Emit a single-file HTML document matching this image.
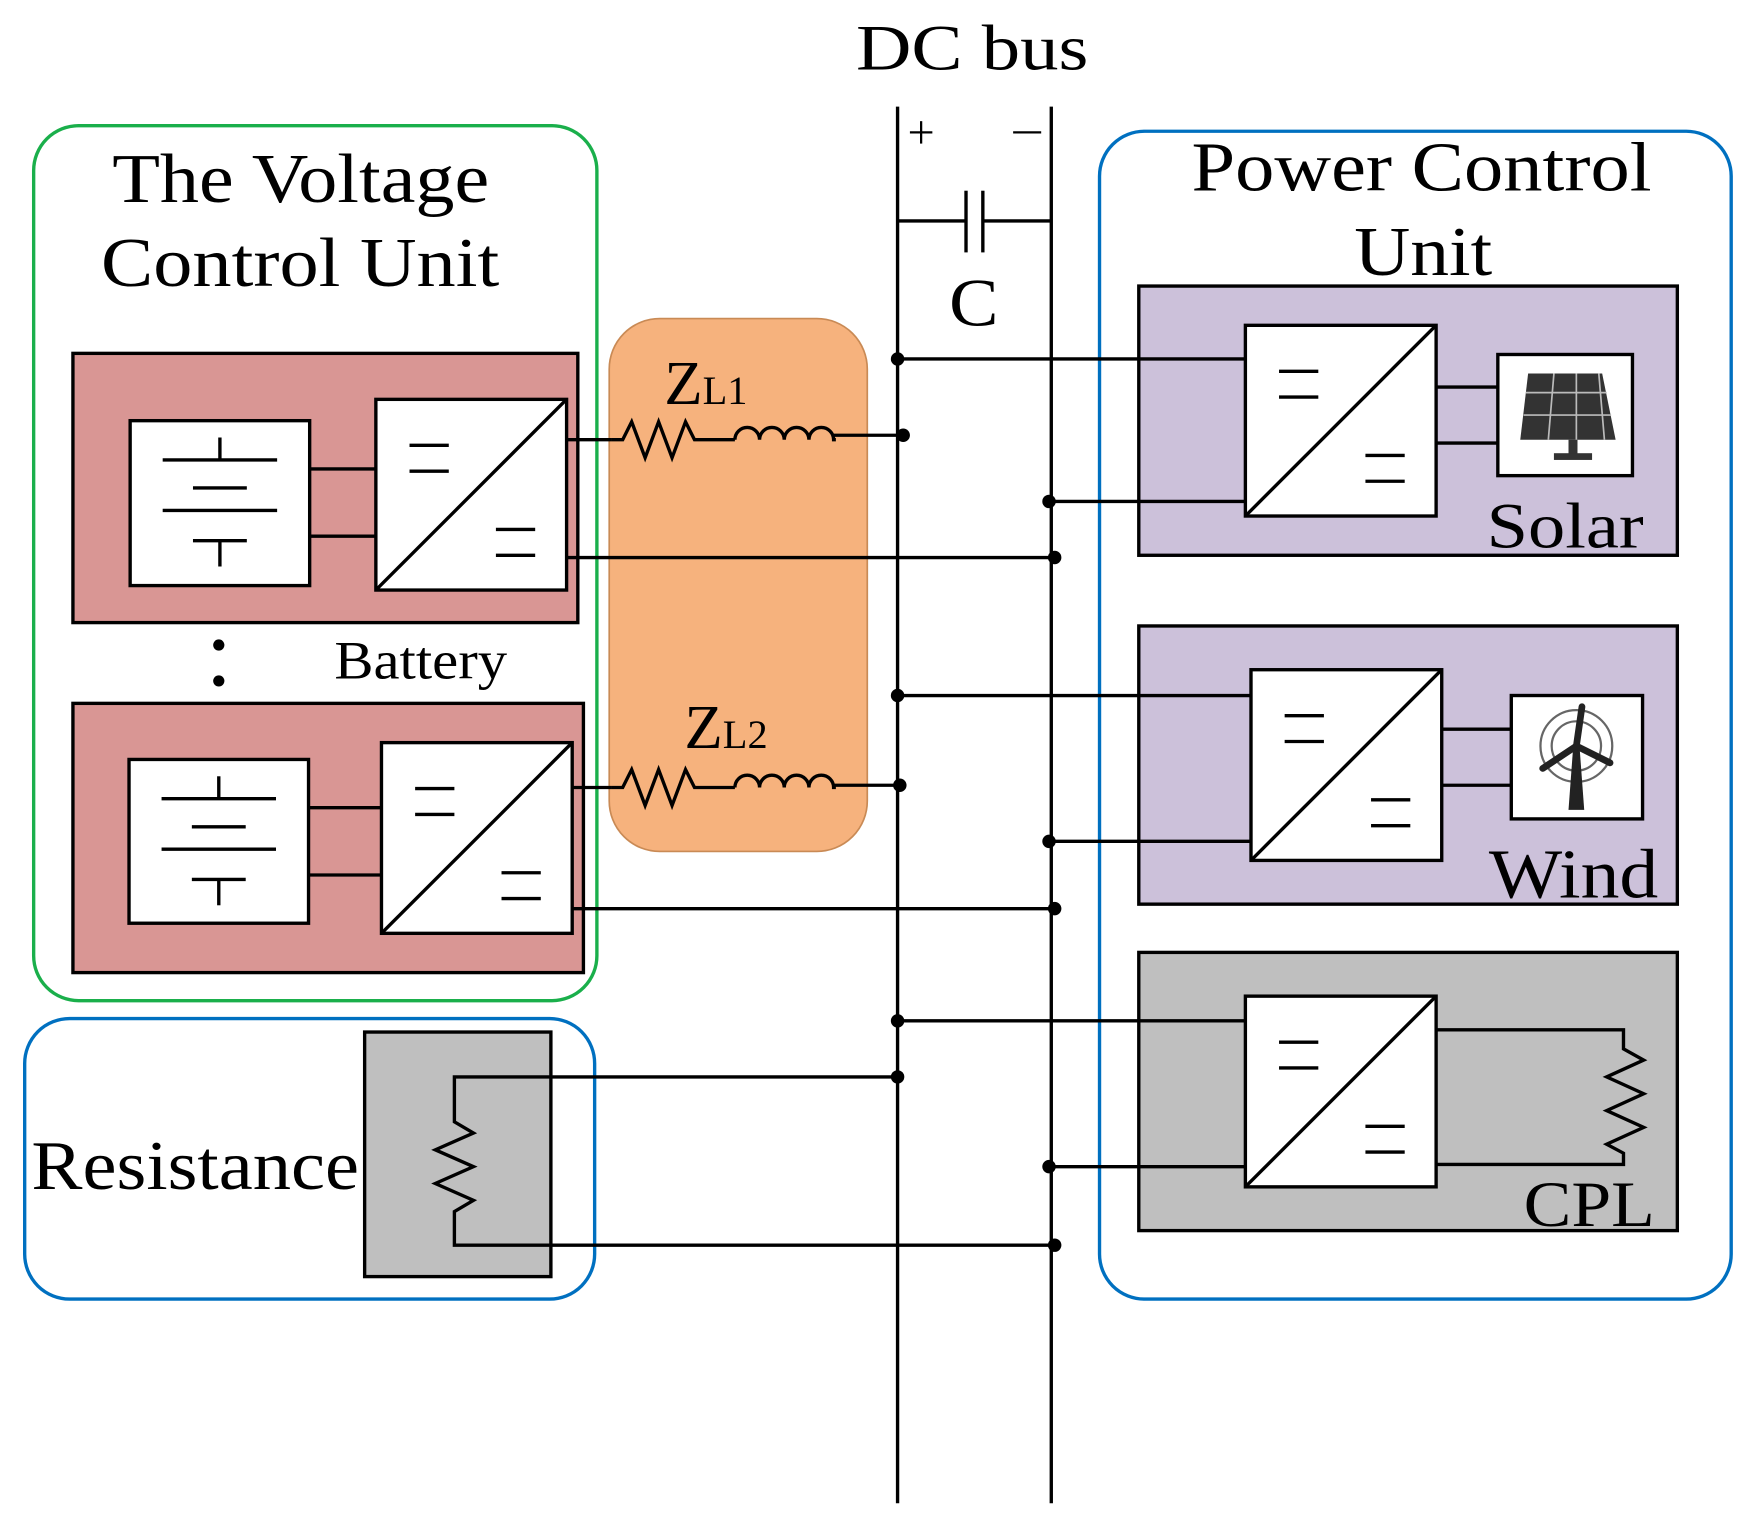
<!DOCTYPE html>
<html><head><meta charset="utf-8"><style>html,body{margin:0;padding:0;background:#fff}svg{display:block}</style></head>
<body>
<svg width="1757" height="1529" viewBox="0 0 1566 1363" preserveAspectRatio="none" xmlns="http://www.w3.org/2000/svg" font-family="'Liberation Serif', serif">
<defs>
<g id="conv">
<rect x="0" y="0" width="170" height="170" fill="#fff" stroke="#000" stroke-width="3"/>
<line x1="0" y1="170" x2="170" y2="0" stroke="#000" stroke-width="3"/>
<line x1="30" y1="41" x2="65" y2="41" stroke="#000" stroke-width="3"/>
<line x1="30" y1="64" x2="65" y2="64" stroke="#000" stroke-width="3"/>
<line x1="107" y1="116" x2="142" y2="116" stroke="#000" stroke-width="3"/>
<line x1="107" y1="139" x2="142" y2="139" stroke="#000" stroke-width="3"/>
</g>
<g id="batt" stroke="#000" stroke-width="3">
<line x1="80" y1="15" x2="80" y2="35"/>
<line x1="29" y1="35" x2="131" y2="35"/>
<line x1="56" y1="60" x2="104" y2="60"/>
<line x1="29" y1="80" x2="131" y2="80"/>
<line x1="56" y1="107" x2="104" y2="107"/>
<line x1="80" y1="107" x2="80" y2="130"/>
</g>
<g id="zl" fill="none" stroke="#000" stroke-width="3">
<polyline points="0,0 10,0 18,-16 30,16 42,-16 54,16 66,-16 74,0 110,0"/>
<path d="M110,0 a11,11 0 0 1 22,0 a11,11 0 0 1 22,0 a11,11 0 0 1 22,0 a11,11 0 0 1 22,0 l2,0"/>
</g>
</defs>
<rect width="1566" height="1363" fill="#fff"/>
<text x="763" y="62" font-size="58" textLength="207" lengthAdjust="spacingAndGlyphs">DC bus</text>
<g stroke="#000" stroke-width="3" fill="none">
<line x1="800" y1="95" x2="800" y2="1340"/>
<line x1="937" y1="95" x2="937" y2="1340"/>
<line x1="800" y1="197" x2="861" y2="197"/>
<line x1="861" y1="170" x2="861" y2="225"/>
<line x1="876" y1="170" x2="876" y2="225"/>
<line x1="876" y1="197" x2="937" y2="197"/>
<line x1="811" y1="118" x2="831" y2="118" stroke-width="2"/>
<line x1="821" y1="108" x2="821" y2="128" stroke-width="2"/>
<line x1="903" y1="118" x2="928" y2="118" stroke-width="2"/>
</g>
<text x="846" y="290" font-size="60" textLength="44" lengthAdjust="spacingAndGlyphs">C</text>

<rect x="30" y="112" width="502" height="780" rx="40" fill="none" stroke="#1aaf4b" stroke-width="3"/>
<text x="100" y="180" font-size="62" textLength="336" lengthAdjust="spacingAndGlyphs">The Voltage</text>
<text x="90" y="255" font-size="62" textLength="355" lengthAdjust="spacingAndGlyphs">Control Unit</text>

<rect x="543" y="284" width="230" height="475" rx="45" fill="#f6b27d" stroke="#c98a55" stroke-width="1.5"/>

<rect x="65" y="315" width="450" height="240" fill="#d99694" stroke="#000" stroke-width="3"/>
<rect x="116" y="375" width="160" height="147" fill="#fff" stroke="#000" stroke-width="3"/>
<use href="#batt" x="116" y="375"/>
<g stroke="#000" stroke-width="3"><line x1="276" y1="418" x2="335" y2="418"/><line x1="276" y1="478" x2="335" y2="478"/></g>
<use href="#conv" x="335" y="356"/>

<rect x="65" y="627" width="455" height="240" fill="#d99694" stroke="#000" stroke-width="3"/>
<rect x="115" y="677" width="160" height="146" fill="#fff" stroke="#000" stroke-width="3"/>
<use href="#batt" x="115" y="677"/>
<g stroke="#000" stroke-width="3"><line x1="275" y1="720" x2="340" y2="720"/><line x1="275" y1="780" x2="340" y2="780"/></g>
<use href="#conv" x="340" y="662"/>

<circle cx="195" cy="575" r="5"/><circle cx="195" cy="607" r="5"/>
<text x="298" y="605" font-size="48" textLength="154" lengthAdjust="spacingAndGlyphs">Battery</text>

<text x="592" y="360" font-size="56">Z<tspan font-size="36">L1</tspan></text>
<text x="610" y="667" font-size="56">Z<tspan font-size="36">L2</tspan></text>
<g stroke="#000" stroke-width="3">
<line x1="505" y1="392" x2="545" y2="392"/>
<line x1="505" y1="497" x2="940" y2="497"/>
<line x1="510" y1="702" x2="545" y2="702"/>
<line x1="510" y1="810" x2="940" y2="810"/>
<line x1="742" y1="388" x2="805" y2="388"/>
<line x1="742" y1="700" x2="802" y2="700"/>
</g>
<use href="#zl" x="545" y="392"/>
<use href="#zl" x="545" y="702"/>
<g fill="#000">
<circle cx="805" cy="388" r="6"/><circle cx="940" cy="497" r="6"/>
<circle cx="802" cy="700" r="6"/><circle cx="940" cy="810" r="6"/>
<circle cx="800" cy="320" r="6"/><circle cx="935" cy="447" r="6"/>
<circle cx="800" cy="620" r="6"/><circle cx="935" cy="750" r="6"/>
<circle cx="800" cy="910" r="6"/><circle cx="935" cy="1040" r="6"/>
<circle cx="800" cy="960" r="6"/><circle cx="940" cy="1110" r="6"/>
</g>

<rect x="980" y="117" width="563" height="1041" rx="40" fill="none" stroke="#0070c0" stroke-width="3"/>
<text x="1062" y="170" font-size="62" textLength="410" lengthAdjust="spacingAndGlyphs">Power Control</text>
<text x="1207" y="245" font-size="62" textLength="123" lengthAdjust="spacingAndGlyphs">Unit</text>

<rect x="1015" y="255" width="480" height="240" fill="#ccc1da" stroke="#000" stroke-width="3"/>
<use href="#conv" x="1110" y="290"/>
<g stroke="#000" stroke-width="3">
<line x1="800" y1="320" x2="1110" y2="320"/><line x1="935" y1="447" x2="1110" y2="447"/>
<line x1="1280" y1="345" x2="1335" y2="345"/><line x1="1280" y1="395" x2="1335" y2="395"/>
</g>
<rect x="1335" y="316" width="120" height="108" fill="#fff" stroke="#000" stroke-width="3"/>
<polygon points="1362,333 1428,333 1440,392 1355,392" fill="#333"/>
<g stroke="#bbb" stroke-width="1.5"><line x1="1360" y1="350" x2="1432" y2="350"/><line x1="1358" y1="370" x2="1436" y2="370"/><line x1="1385" y1="333" x2="1380" y2="392"/><line x1="1405" y1="333" x2="1405" y2="392"/><line x1="1425" y1="333" x2="1430" y2="392"/></g>
<rect x="1398" y="392" width="8" height="14" fill="#333"/><rect x="1385" y="404" width="34" height="6" fill="#333"/>
<text x="1325" y="488" font-size="58" textLength="140" lengthAdjust="spacingAndGlyphs">Solar</text>

<rect x="1015" y="558" width="480" height="248" fill="#ccc1da" stroke="#000" stroke-width="3"/>
<use href="#conv" x="1115" y="597"/>
<g stroke="#000" stroke-width="3">
<line x1="800" y1="620" x2="1115" y2="620"/><line x1="935" y1="750" x2="1115" y2="750"/>
<line x1="1285" y1="650" x2="1347" y2="650"/><line x1="1285" y1="700" x2="1347" y2="700"/>
</g>
<rect x="1347" y="620" width="117" height="110" fill="#fff" stroke="#000" stroke-width="3"/>
<g fill="none" stroke="#666" stroke-width="2"><circle cx="1405" cy="665" r="22"/><circle cx="1405" cy="665" r="32"/></g>
<polygon points="1402,668 1408,668 1412,722 1398,722" fill="#222"/>
<g stroke="#222" stroke-width="6" stroke-linecap="round"><line x1="1405" y1="665" x2="1410" y2="630"/><line x1="1405" y1="665" x2="1375" y2="685"/><line x1="1405" y1="665" x2="1435" y2="680"/></g>
<text x="1327" y="800" font-size="62" textLength="151" lengthAdjust="spacingAndGlyphs">Wind</text>

<rect x="1015" y="849" width="480" height="248" fill="#bfbfbf" stroke="#000" stroke-width="3"/>
<use href="#conv" x="1110" y="888"/>
<g stroke="#000" stroke-width="3" fill="none">
<line x1="800" y1="910" x2="1110" y2="910"/><line x1="935" y1="1040" x2="1110" y2="1040"/>
<polyline points="1280,918 1447,918 1447,935 1465,945 1432,960 1465,975 1432,990 1465,1005 1432,1020 1447,1028 1447,1038 1280,1038"/>
</g>
<text x="1358" y="1093" font-size="58" textLength="117" lengthAdjust="spacingAndGlyphs">CPL</text>

<rect x="22" y="908" width="508" height="250" rx="40" fill="none" stroke="#0070c0" stroke-width="3"/>
<rect x="325" y="920" width="166" height="218" fill="#bfbfbf" stroke="#000" stroke-width="3"/>
<polyline points="800,960 405,960 405,1000 422,1010 388,1025 422,1040 388,1055 422,1070 405,1080 405,1110 940,1110" fill="none" stroke="#000" stroke-width="3"/>
<text x="28" y="1060" font-size="62" textLength="292" lengthAdjust="spacingAndGlyphs">Resistance</text>
</svg>
</body></html>
